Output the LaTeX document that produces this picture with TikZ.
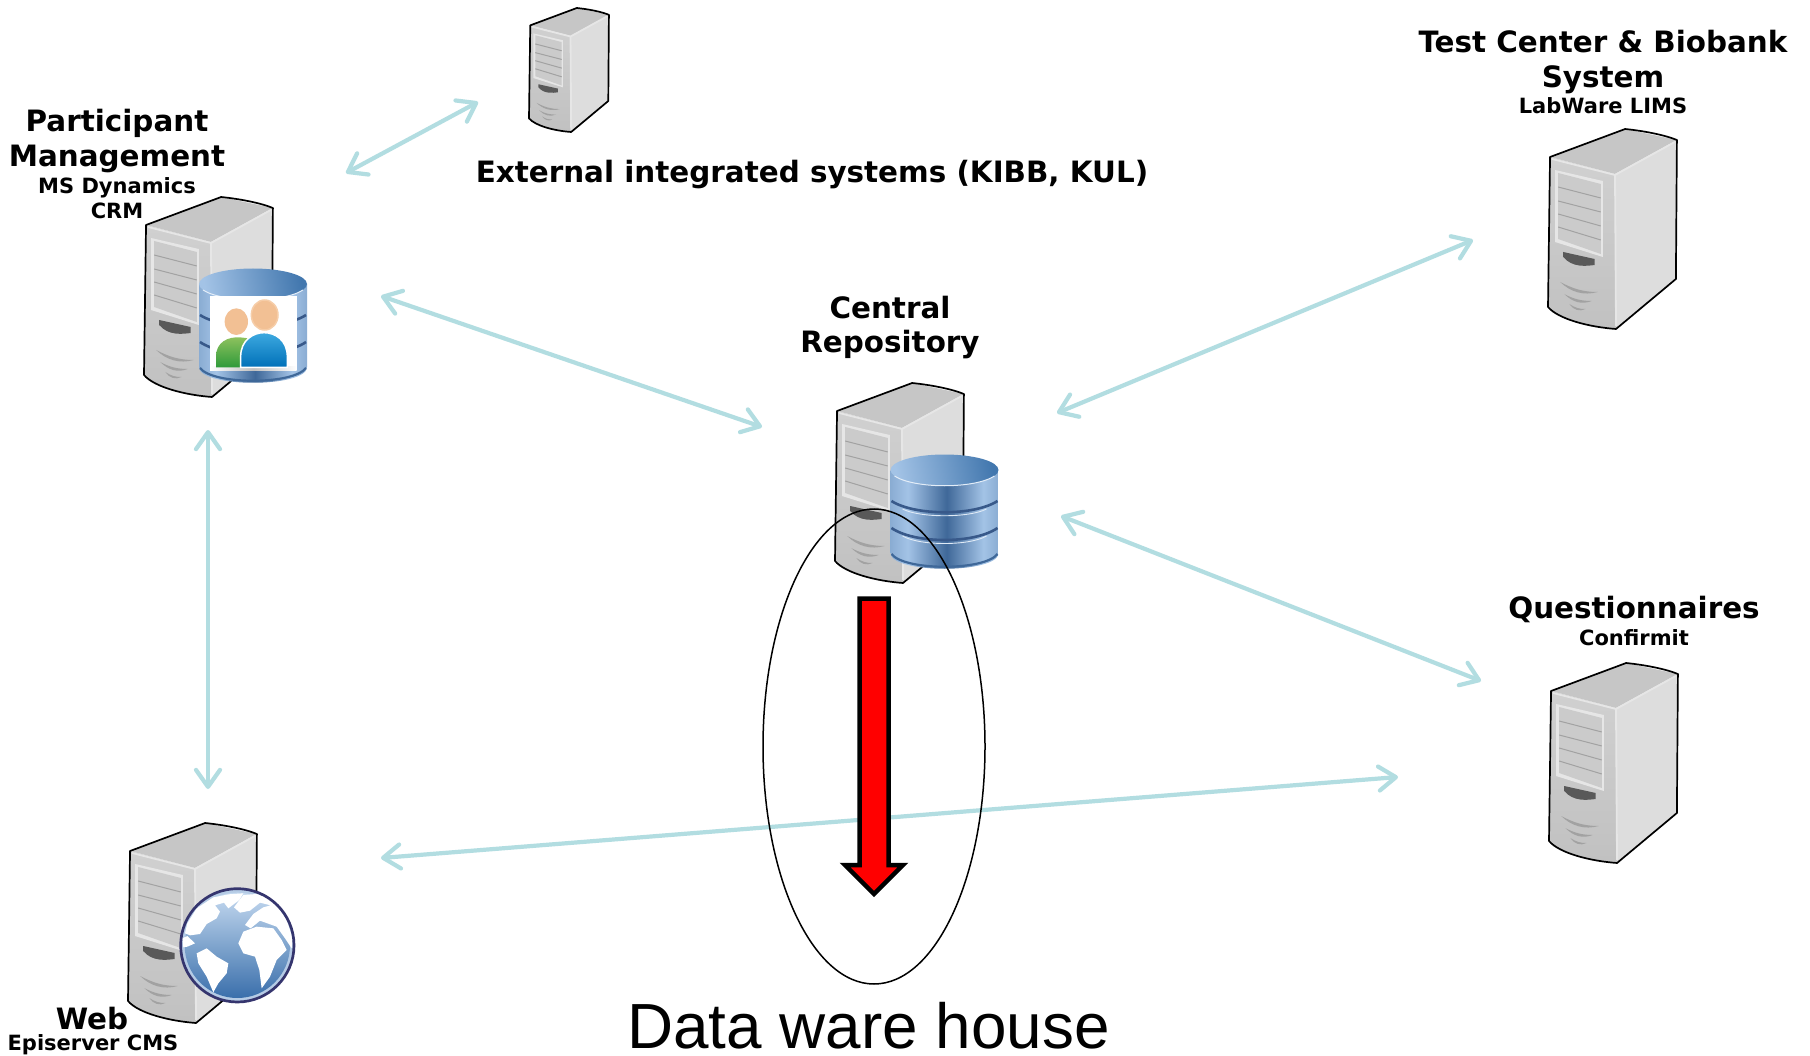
\documentclass[tikz,border=0pt]{standalone}
\usepackage{fontspec}
\setmainfont{DejaVu Sans}
\newfontfamily\bigfont{Liberation Sans}
\usetikzlibrary{arrows.meta,shapes.geometric}
\definecolor{flowc}{HTML}{B2DDE1}
\definecolor{topf}{HTML}{C6C6C6}
\definecolor{rightf}{HTML}{DDDDDD}
\definecolor{frontf}{HTML}{CBCBCB}
\definecolor{edgef}{HTML}{E6E6E6}
\definecolor{grille}{HTML}{A2A2A2}
\definecolor{dblight}{HTML}{A3C3E6}
\definecolor{dbmid}{HTML}{3F6899}
\definecolor{dbtop}{HTML}{4277AE}
\definecolor{dbline}{HTML}{38598A}
\definecolor{headc}{HTML}{F2C094}
\definecolor{headl}{HTML}{F6CDA8}
\definecolor{bluet}{HTML}{3DA9E0}
\definecolor{blueb}{HTML}{0070B8}
\definecolor{greent}{HTML}{8FC25E}
\definecolor{greenb}{HTML}{2E9A3A}
\definecolor{seat}{HTML}{C5DAF0}
\definecolor{seab}{HTML}{3A6FAB}
\definecolor{ringc}{HTML}{B5CBE5}
\definecolor{navyc}{HTML}{35356E}
\pgfdeclarehorizontalshading{dbbody}{100bp}{color(0bp)=(dblight!75!dbmid); color(25bp)=(dblight!75!dbmid); color(33bp)=(dblight); color(51bp)=(dbmid); color(68bp)=(dblight); color(75bp)=(dblight!75!dbmid); color(100bp)=(dblight!75!dbmid)}
\tikzset{
  flow/.style={line width=4.2pt,draw=flowc,line cap=round,
    {Straight Barb[length=17pt,width=24pt,round]}-{Straight Barb[length=17pt,width=24pt,round]}},
  titletext/.style={font=\fontsize{29.4}{32}\selectfont\bfseries,text=black,anchor=base,inner sep=0pt},
  subtext/.style={font=\fontsize{21}{24}\selectfont\bfseries,text=black,anchor=base,inner sep=0pt},
  bigtext/.style={font=\bigfont\fontsize{63.8}{70}\selectfont,text=black,anchor=base,inner sep=0pt},
  srvline/.style={line width=1.7pt,draw=black,line join=round},
}
\newcommand{\srvbox}[3]{%
\begin{scope}[shift={(#1,#2)},xscale=1.015*#3,yscale=#3]
  \fill[topf] (2,28)--(76,0)--(127,11)--(66,45)--cycle;
  \fill[rightf] (66,45)--(127,11)--(126,150)--(67,200)--cycle;
  \shade[top color=frontf!90!white,bottom color=frontf!95!black] (2,28)--(66,45)--(67,200) .. controls (40,198) and (10,190) .. (0,178)--cycle;
  \draw[edgef,line width=1.8pt,line join=round] (4,30)--(66,46)--(125,13);
  \draw[edgef,line width=1.8pt] (66,46)--(67,197);
  \fill[edgef] (7,41)--(54,52)--(54,128)--(7,113)--cycle;
  \fill[frontf] (10,44)--(52,55)--(52,125)--(10,110)--cycle;
  \foreach \ya/\yb in {58/69,72/83,85/97,98/111}{\draw[grille,line width=1pt] (10,\ya)--(52,\yb);}
  \fill[black!65] (15,123)--(46,130)--(46,136) .. controls (38,137) and (24,139) .. (15,128)--cycle;
  \fill[grille] (12,153) .. controls (25,160) and (35,163) .. (49,163) .. controls (35,167) and (22,163) .. (12,153)--cycle;
  \fill[grille] (16,165) .. controls (25,170) and (33,172) .. (43,172) .. controls (33,176) and (24,173) .. (16,165)--cycle;
  \fill[grille] (21,175) .. controls (27,179) and (31,180) .. (37,180) .. controls (31,183) and (25,181) .. (21,175)--cycle;
  \draw[srvline] (2,28)--(76,0) .. controls (95,2) and (115,6) .. (127,11)--(126,150)--(67,200) .. controls (40,198) and (10,190) .. (0,178)--cycle;
\end{scope}}
\newcommand{\dbcan}[2]{%
\begin{scope}[shift={(#1,#2)}]
  \shade[shading=dbbody] (-54,0)--(-54,83) .. controls (-54,104) and (54,104) .. (54,83)--(54,0)--cycle;
  \draw[dbmid,line width=2.2pt] (-53,84) .. controls (-40,101) and (40,101) .. (53,84);
  \draw[dbline,line width=2.6pt] (-53,31) .. controls (-30,46) and (30,46) .. (53,31);
  \draw[white!65!dblight,line width=.9pt] (-42,39) .. controls (-25,48) and (25,48) .. (42,39);
  \draw[dbline,line width=2.6pt] (-53,58) .. controls (-30,74) and (30,74) .. (53,58);
  \draw[white!65!dblight,line width=.9pt] (-42,66) .. controls (-25,76) and (25,76) .. (42,66);
  \shade[left color=dblight,right color=dbtop,shading angle=100] (0,0) ellipse [x radius=54,y radius=15.5];
  \draw[white!70!dblight,line width=1pt] (-50,6) .. controls (-30,19) and (30,19) .. (50,6);
\end{scope}}
\begin{document}
\begin{tikzpicture}[x=1pt,y=-1pt]
\useasboundingbox (0,0) rectangle (1810,1056);
\fill[white] (0,0) rectangle (1810,1056);
% servers
\srvbox{144}{197}{1}
\srvbox{835}{383}{1}
\srvbox{128}{823}{1}
\srvbox{1548}{129}{1}
\srvbox{1549}{663}{1}
\srvbox{529}{8}{0.62}
% central database
\dbcan{944.5}{470}
% participant database
\dbcan{253}{284}
\begin{scope}[shift={(100,160)},scale=1/3]
  \fill[white] (330,408) rectangle (590,625);
  \shade[left color=white,right color=white,middle color=black!25] (330,620) rectangle (590,632);
  \shade[top color=greent,bottom color=greenb] (348,622)--(348,590) .. controls (348,545) and (385,530) .. (420,532) -- (445,535)--(445,622)--cycle;
  \fill[headc] (409,485) ellipse [x radius=35,y radius=40];
  \draw[headl,line width=1.5pt,fill=headc] (494,465) ellipse [x radius=40,y radius=45];
  \draw[white,line width=1.5pt,top color=bluet,bottom color=blueb] (422,622)--(422,590) .. controls (422,540) and (460,518) .. (492,518) .. controls (525,518) and (562,540) .. (562,590)--(562,622)--cycle;
\end{scope}
% globe
\begin{scope}[shift={(100,800)},scale=1/3]
  \fill[ringc] (412,436) circle [radius=170];
  \shade[top color=seat,bottom color=seab] (412,436) circle [radius=158];
  \fill[white] (255,400)--(262,370)--(290,325)--(340,292)--(385,283)--(430,280)--(418,300)--(385,325)--(372,308)--(345,316)--(360,335)--(350,355)--(320,372)--(300,402)--(270,406)--cycle;
  \fill[white] (430,285)--(470,282)--(520,300)--(560,360)--(578,415)--(575,445)--(555,415)--(530,380)--(480,362)--(452,385)--(435,375)--(460,342)--(490,322)--(512,316)--(480,308)--(450,332)--(420,338)--(402,322)--cycle;
  \fill[white] (415,430)--(430,395)--(470,380)--(520,385)--(545,420)--(560,450)--(530,480)--(510,530)--(485,565)--(478,510)--(465,470)--(430,460)--cycle;
  \fill[white] (290,460)--(320,445)--(350,470)--(385,490)--(380,520)--(355,550)--(340,577)--(320,530)--(295,490)--cycle;
  \fill[white] (247,415)--(262,408)--(285,430)--(262,440)--(250,442)--cycle;
  \draw[navyc,line width=2.7pt] (412,436) circle [radius=170];
\end{scope}
% connector end points
\coordinate (extA) at (346,173);
\coordinate (extB) at (478,102);
\coordinate (pmA) at (381,296);
\coordinate (crA) at (762,427);
\coordinate (crB) at (1057,413);
\coordinate (tcA) at (1473,240);
\coordinate (crC) at (1061,516);
\coordinate (qnA) at (1481,681);
\coordinate (pmB) at (208,430);
\coordinate (wbA) at (208,789);
\coordinate (wbB) at (381,858);
\coordinate (qnB) at (1398,777);
\draw[flow] (extA)--(extB);
\draw[flow] (pmA)--(crA);
\draw[flow] (crB)--(tcA);
\draw[flow] (crC)--(qnA);
\draw[flow] (pmB)--(wbA);
\draw[flow] (wbB)--(qnB);
% warehouse ellipse and arrow
\draw[black,line width=4.5pt,fill=red,line join=miter,miter limit=10] (859.5,598.5)--(888.5,598.5)--(888.5,865)--(903,865)--(874,894)--(845,865)--(859.5,865)--cycle;
\node (whell) [draw=black,line width=1.5pt,ellipse,minimum width=222pt,minimum height=475pt,inner sep=0pt] at (874,746.5) {};
% labels
\node (pm1) [titletext] at (117,132) {Participant};
\node (pm2) [titletext] at (117,167) {Management};
\node (pm3) [subtext] at (117,194) {MS Dynamics};
\node (pm4) [subtext] at (117,219) {CRM};
\node (ext) [titletext] at (812,183) {External integrated systems (KIBB, KUL)};
\node (tc1) [titletext] at (1603,53) {Test Center \& Biobank};
\node (tc2) [titletext] at (1603,88) {System};
\node (tc3) [subtext] at (1603,114) {LabWare LIMS};
\node (cr1) [titletext] at (890,319) {Central};
\node (cr2) [titletext] at (890,353) {Repository};
\node (qn1) [titletext] at (1634,618) {Questionnaires};
\node (qn2) [subtext] at (1634,645) {Confirmit};
\node (wb1) [titletext] at (92,1029) {Web};
\node (wb2) [subtext] at (93,1050.5) {Episerver CMS};
\node (dwh) [bigtext] at (868.5,1048) {Data ware house};
\end{tikzpicture}
\end{document}
